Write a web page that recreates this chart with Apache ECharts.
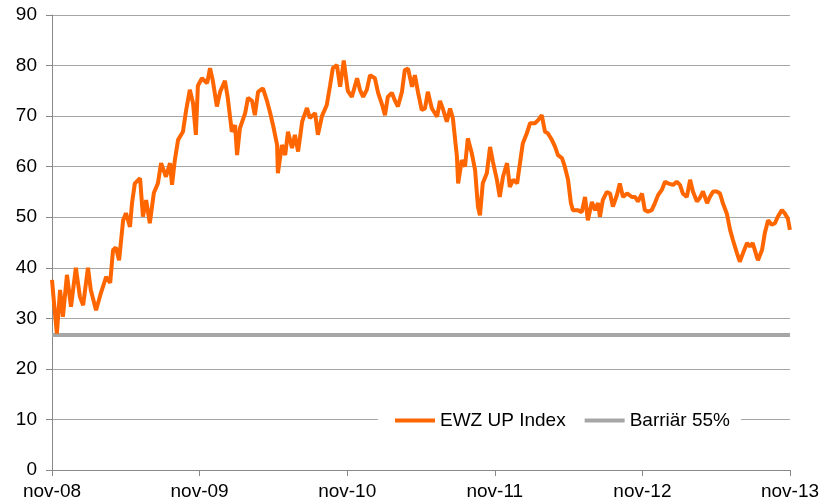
<!DOCTYPE html>
<html>
<head>
<meta charset="utf-8">
<script src="https://cdn.jsdelivr.net/npm/echarts@6/dist/echarts.min.js"></script>
<style>
html,body{margin:0;padding:0;background:#fff;}
#c{width:826px;height:504px;}
</style>
</head>
<body>
<div id="c"></div>
<script>
// day offsets from 1 Nov 2008
var days = [0,5,12,20,27,37,47,59,69,77,89,96,109,121,134,144,151,158,166,176,183,193,198,205,218,225,233,242,252,262,270,282,292,297,304,312,324,332,341,349,356,361,371,384,391,398,408,416,428,435,445,453,458,465,478,485,495,502,510,522,532,539,547,557,559,569,577,584,594,601,609,619,631,638,651,658,668,680,688,695,705,713,722,732,742,755,762,770,779,787,799,807,817,824,831,841,849,856,866,873,881,891,898,906,915,923,930,940,953,960,967,977,985,992,1002,1005,1014,1022,1029,1039,1047,1054,1059,1066,1076,1084,1091,1101,1108,1116,1126,1133,1141,1151,1158,1165,1175,1183,1195,1203,1212,1220,1227,1237,1245,1252,1262,1269,1277,1284,1289,1301,1311,1319,1326,1336,1344,1351,1356,1363,1373,1381,1388,1398,1405,1413,1423,1435,1443,1450,1460,1467,1475,1484,1492,1500,1509,1517,1524,1537,1546,1554,1561,1571,1579,1586,1596,1603,1611,1621,1628,1636,1645,1653,1660,1670,1678,1685,1695,1702,1710,1720,1727,1734,1744,1747,1757,1764,1772,1781,1789,1796,1806,1814,1821,1826];
var ewz = [37.6,33,27,35.6,30.3,38.6,32.3,40,34.3,32.6,40,35.6,31.6,35,38.2,37,43.5,44,41.5,49.4,50.8,48.1,52.8,56.7,57.7,50.1,53.4,48.8,54.8,56.7,60.7,58,60.7,56.4,61.3,65.3,66.9,71.2,75.2,72.6,66.3,76,77.5,76.5,79.5,77,71.9,74.8,77,73.6,66.9,68.2,62.3,67.6,70.6,73.6,73,70.2,74.8,75.5,73,70.9,68.2,64.3,58.7,64.3,62.3,66.9,63.7,66.3,63,68.9,71.6,69.6,70.6,66.3,70,72.2,76,79.5,80.1,75.8,81,75,73.8,77.5,75.2,73.8,75.2,78.1,77.5,74.6,72.2,70.2,73.8,74.6,73,71.9,74.8,79.1,79.4,75.8,78.1,74.6,71.2,71.5,74.8,71.5,69.9,73,71.5,68.9,71.5,69.6,62,56.7,61.3,60,65.6,62.6,59.3,52.1,50.4,56.7,58.7,63.9,61,57.4,54,58,60.7,56,57.4,56.7,60.7,64.6,66.6,68.6,68.6,69.2,70.2,66.9,66.6,65.3,63.9,62.3,61.7,60,57.4,52.8,51.4,51.4,51,54,49.4,53,51.4,52.8,50.1,53.4,55,54.7,52.1,54.4,56.7,54,54.7,54,54,53.1,54.7,51.4,51.1,51.4,52.8,54.4,55.4,57,56.7,56.4,57,56.4,54.7,54,57.4,55.1,53.1,53.8,55.1,52.8,54,55.1,55.1,54.7,52.8,50.7,47.5,45.5,42.9,41.2,42.9,44.9,44.2,44.9,42.2,41.5,43.5,46.9,49.4,48.5,48.8,50.1,51.4,50.7,49.7,47.5];
var barrier = 26.7;
var xLabels = ['nov-08','nov-09','nov-10','nov-11','nov-12','nov-13'];
var seriesNames = ['EWZ UP Index','Barriär 55%'];

var yearDays = 365.25;
var endDay = yearDays * 5;
var ewzData = days.map(function(d,i){return [d, ewz[i]];});
var barrierData = [[0, barrier],[endDay, barrier]];

var font = 'Liberation Sans, Arial, sans-serif';
var chart = echarts.init(document.getElementById('c'), null, {renderer:'canvas'});
chart.setOption({
  animation:false,
  backgroundColor:'#fff',
  grid:{left:52,right:36,top:15,bottom:34,containLabel:false},
  xAxis:{
    type:'value', min:0, max:endDay, interval:yearDays,
    axisLine:{show:true,lineStyle:{color:'#888',width:1}},
    axisTick:{show:true,length:6,lineStyle:{color:'#888'}},
    splitLine:{show:false},
    axisLabel:{margin:12,color:'#000',fontFamily:font,fontSize:19,
      formatter:function(v){return xLabels[Math.round(v/yearDays)] || '';}}
  },
  yAxis:{
    type:'value', min:0, max:90, interval:10,
    axisLine:{show:true,lineStyle:{color:'#888',width:1}},
    axisTick:{show:true,length:6,lineStyle:{color:'#888'}},
    splitLine:{show:true,lineStyle:{color:'#a6a6a6',width:1}},
    axisLabel:{margin:15,color:'#000',fontFamily:font,fontSize:19}
  },
  legend:{
    data:seriesNames,
    left:378, top:407,
    padding:[4,11,4,17],
    backgroundColor:'#fff',
    itemWidth:40, itemHeight:4, itemGap:19,
    icon:'rect',
    textStyle:{color:'#000',fontFamily:font,fontSize:19}
  },
  series:[
    {name:seriesNames[0],type:'line',data:ewzData,showSymbol:false,symbol:'none',
     lineStyle:{color:'#ff6600',width:4},itemStyle:{color:'#ff6600'},z:3},
    {name:seriesNames[1],type:'line',data:barrierData,showSymbol:false,symbol:'none',
     lineStyle:{color:'#a6a6a6',width:4},itemStyle:{color:'#a6a6a6'},z:2}
  ]
});
</script>
</body>
</html>
